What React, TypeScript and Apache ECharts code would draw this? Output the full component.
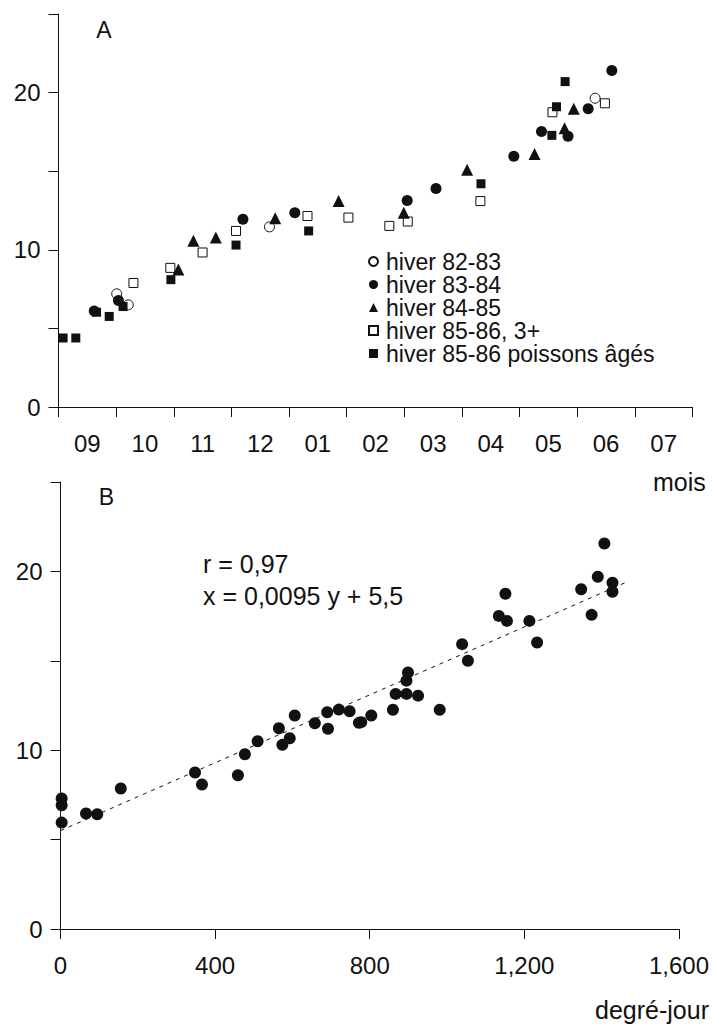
import React, { useEffect, useRef } from "react";
import * as echarts from "echarts";

// ---------- Panel A data: [month index since 1 Sept, value] ----------
const months = ["09", "10", "11", "12", "01", "02", "03", "04", "05", "06", "07"];

const hiver8283: [number, number][] = [
  [1.01, 7.2], [1.21, 6.5], [3.66, 11.46], [9.31, 19.64],
];
const hiver8384: [number, number][] = [
  [0.62, 6.1], [1.04, 6.77], [3.2, 11.94], [4.1, 12.36], [6.05, 13.14],
  [6.55, 13.9], [7.9, 15.95], [8.38, 17.53], [8.84, 17.22], [9.19, 18.97], [9.6, 21.4],
];
const hiver8485: [number, number][] = [
  [2.08, 8.75], [2.34, 10.57], [2.73, 10.78], [3.76, 12.0], [4.86, 13.1],
  [5.99, 12.36], [7.09, 15.1], [8.26, 16.1], [8.78, 17.74], [8.94, 18.97],
];
const hiver8586jeunes: [number, number][] = [
  [1.3, 7.89], [1.94, 8.85], [2.5, 9.83], [3.08, 11.2], [4.32, 12.15],
  [5.03, 12.05], [5.74, 11.52], [6.06, 11.8], [7.32, 13.1], [8.57, 18.75], [9.48, 19.32],
];
const hiver8586ages: [number, number][] = [
  [0.08, 4.39], [0.3, 4.39], [0.66, 6.03], [0.88, 5.76], [1.12, 6.39], [1.95, 8.1],
  [3.08, 10.3], [4.34, 11.2], [7.33, 14.2], [8.56, 17.28], [8.64, 19.1], [8.79, 20.7],
];

// ---------- Panel B data: [degré-jour, value] ----------
const degreJour: [number, number][] = [
  [3, 7.3], [3, 6.92], [3, 5.95], [66, 6.46], [95, 6.42], [156, 7.86],
  [348, 8.75], [366, 8.08], [459, 8.6], [477, 9.77], [510, 10.5],
  [565, 11.23], [574, 10.3], [593, 10.67], [606, 11.94], [658, 11.51],
  [690, 12.12], [692, 11.2], [720, 12.27], [748, 12.18], [772, 11.53],
  [778, 11.57], [804, 11.94], [860, 12.26], [867, 13.15], [895, 13.15],
  [899, 14.35], [895, 13.89], [925, 13.05], [981, 12.26], [1039, 15.93],
  [1054, 15.0], [1134, 17.51], [1155, 17.23], [1151, 18.75], [1213, 17.23],
  [1233, 16.02], [1347, 19.0], [1374, 17.57], [1390, 19.7], [1407, 21.56],
  [1428, 19.37], [1428, 18.86],
];
const regression: [number, number][] = [[0, 5.5], [1464, 19.4]];

const yTicks = [0, 10, 20];
const xTicksB = [0, 400, 800, 1200, 1600];

const INK = "#111";
const FONT = "'Liberation Sans', Arial, Helvetica, sans-serif";

export default function App() {
  const ref = useRef<HTMLDivElement>(null);
  useEffect(() => {
    document.body.style.margin = "0";
    if (!ref.current) return;
    const chart = echarts.init(ref.current, null, { renderer: "svg" });

    const axisLine = { show: true, lineStyle: { color: INK, width: 1 } };
    const axisTick = { show: true, length: 10, lineStyle: { color: INK, width: 1 } };
    const yAxisCommon = {
      type: "value" as const,
      min: 0,
      max: 25,
      interval: 5,
      axisLine,
      axisTick,
      splitLine: { show: false },
      axisLabel: {
        color: INK,
        fontSize: 24,
        fontFamily: FONT,
        margin: 18,
        formatter: (v: number) => (yTicks.includes(v) ? String(v) : ""),
      },
    };

    const markerEmpty = { color: "#fff", borderColor: INK, borderWidth: 1, opacity: 1 };
    const markerFull = { color: INK, borderColor: INK, borderWidth: 0, opacity: 1 };

    chart.setOption({
      animation: false,
      backgroundColor: "#fff",
      textStyle: { fontFamily: FONT },
      grid: [
        { left: 58.5, top: 14, width: 634, height: 393 },
        { left: 60.5, top: 482, width: 619, height: 447 },
      ],
      xAxis: [
        {
          type: "value",
          gridIndex: 0,
          position: "bottom",
          min: 0,
          max: 11,
          interval: 1,
          axisLine,
          axisTick,
          axisLabel: { show: false },
          splitLine: { show: false },
        },
        {
          type: "category",
          gridIndex: 0,
          position: "bottom",
          offset: 0,
          data: months,
          boundaryGap: true,
          axisLine: { show: false },
          axisTick: { show: false },
          axisLabel: { color: INK, fontSize: 24, fontFamily: FONT, margin: 24, interval: 0 },
          splitLine: { show: false },
        },
        {
          type: "value",
          gridIndex: 1,
          position: "bottom",
          min: 0,
          max: 1600,
          interval: 400,
          axisLine,
          axisTick,
          splitLine: { show: false },
          axisLabel: {
            color: INK,
            fontSize: 24,
            fontFamily: FONT,
            margin: 24,
            formatter: (v: number) =>
              xTicksB.includes(v)
                ? v >= 1000
                  ? `${Math.floor(v / 1000)},${String(v % 1000).padStart(3, "0")}`
                  : String(v)
                : "",
          },
        },
      ],
      yAxis: [
        { ...yAxisCommon, gridIndex: 0 },
        { ...yAxisCommon, gridIndex: 1 },
      ],
      legend: {
        orient: "vertical",
        left: 368,
        top: 250,
        padding: 0,
        itemGap: 0,
        itemWidth: 9,
        itemHeight: 9,
        selectedMode: false,
        textStyle: { color: INK, fontSize: 23, fontFamily: FONT, lineHeight: 23, padding: [0, 0, 0, 3] },
        data: [
          { name: "hiver 82-83", icon: "circle" },
          { name: "hiver 83-84", icon: "circle" },
          { name: "hiver 84-85", icon: "triangle" },
          { name: "hiver 85-86, 3+", icon: "rect" },
          { name: "hiver 85-86 poissons âgés", icon: "rect" },
        ],
      },
      series: [
        {
          name: "hiver 82-83", type: "scatter", xAxisIndex: 0, yAxisIndex: 0,
          symbol: "circle", symbolSize: 10, itemStyle: markerEmpty, data: hiver8283, z: 3,
        },
        {
          name: "hiver 83-84", type: "scatter", xAxisIndex: 0, yAxisIndex: 0,
          symbol: "circle", symbolSize: 11, itemStyle: markerFull, data: hiver8384, z: 4,
        },
        {
          name: "hiver 84-85", type: "scatter", xAxisIndex: 0, yAxisIndex: 0,
          symbol: "triangle", symbolSize: 12, itemStyle: markerFull, data: hiver8485, z: 4,
        },
        {
          name: "hiver 85-86, 3+", type: "scatter", xAxisIndex: 0, yAxisIndex: 0,
          symbol: "rect", symbolSize: 9, itemStyle: markerEmpty, data: hiver8586jeunes, z: 3,
        },
        {
          name: "hiver 85-86 poissons âgés", type: "scatter", xAxisIndex: 0, yAxisIndex: 0,
          symbol: "rect", symbolSize: 9, itemStyle: markerFull, data: hiver8586ages, z: 4,
        },
        {
          name: "regression", type: "line", xAxisIndex: 2, yAxisIndex: 1,
          data: regression, symbol: "none", z: 2,
          lineStyle: { color: INK, width: 1, type: [4, 5] },
        },
        {
          name: "degré-jour", type: "scatter", xAxisIndex: 2, yAxisIndex: 1,
          symbol: "circle", symbolSize: 12, itemStyle: markerFull, data: degreJour, z: 4,
        },
      ],
      graphic: [
        { type: "text", style: { text: "A", x: 104, y: 30, align: "center", verticalAlign: "middle", font: `23px ${FONT}`, fill: INK } },
        { type: "text", style: { text: "B", x: 106.5, y: 496.5, align: "center", verticalAlign: "middle", font: `23px ${FONT}`, fill: INK } },
        { type: "text", style: { text: "r = 0,97", x: 203, y: 564, align: "left", verticalAlign: "middle", font: `25px ${FONT}`, fill: INK } },
        { type: "text", style: { text: "x = 0,0095 y + 5,5", x: 203, y: 596, align: "left", verticalAlign: "middle", font: `25px ${FONT}`, fill: INK } },
        { type: "text", style: { text: "mois", x: 653, y: 482, align: "left", verticalAlign: "middle", font: `25px ${FONT}`, fill: INK } },
        { type: "text", style: { text: "degré-jour", x: 595, y: 1010, align: "left", verticalAlign: "middle", font: `25px ${FONT}`, fill: INK } },
      ],
    });
    return () => chart.dispose();
  }, []);
  return <div ref={ref} style={{ width: 712, height: 1026 }} />;
}
